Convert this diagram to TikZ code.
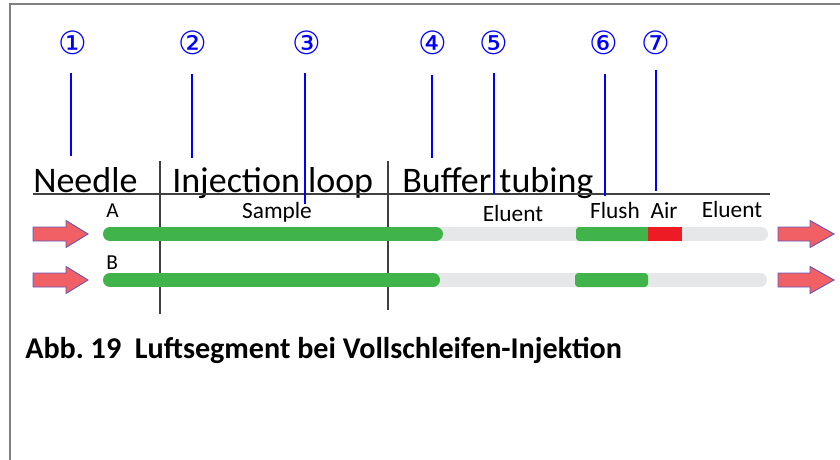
\documentclass[tikz,border=0pt]{standalone}
\usepackage{fontspec}
\setmainfont{Carlito}
\newfontfamily\circfont{DejaVu Sans}
\frenchspacing
\begin{document}
\begin{tikzpicture}[x=0.75pt,y=-0.75pt,
  frame/.style={draw=black!50,line width=1.8pt},
  callout/.style={font=\circfont\fontsize{24}{24}\selectfont,text=blue,inner sep=0pt},
  leader/.style={draw=blue,line width=1.5pt},
  heading/.style={font=\fontsize{27}{30}\selectfont,anchor=base west,inner sep=0pt},
  label/.style={font=\fontsize{17.5}{19}\selectfont,anchor=base,inner sep=0pt},
  rowlabel/.style={font=\fontsize{16}{18}\selectfont,anchor=base west,inner sep=0pt},
  rule/.style={draw=black!75,line width=0.8pt},
  tube/.style={line width=10.5pt},
  flowarrow/.style={fill=arrowred,draw=arrowblue,line width=0.7pt,line join=miter},
  caption/.style={font=\bfseries\fontsize{22.6}{24}\selectfont,anchor=base west,inner sep=0pt}
]
\definecolor{tubegreen}{RGB}{64,180,74}
\definecolor{tubegray}{RGB}{230,231,232}
\definecolor{airred}{RGB}{237,28,36}
\definecolor{arrowred}{RGB}{240,96,100}
\definecolor{arrowblue}{RGB}{100,90,190}
\useasboundingbox (0,0) rectangle (840,460);

% page frame
\draw[frame] (10,462) -- (10,4) -- (842,4);

% callout numbers and their leader lines
\node[callout] (c1) at (73,43) {①};
\node[callout] (c2) at (193,43) {②};
\node[callout] (c3) at (307,43) {③};
\node[callout] (c4) at (433,43) {④};
\node[callout] (c5) at (494,43) {⑤};
\node[callout] (c6) at (604,43) {⑥};
\node[callout] (c7) at (656,43) {⑦};
\coordinate (l1a) at (71,73);  \coordinate (l1b) at (71,156);
\coordinate (l2a) at (192,74); \coordinate (l2b) at (192,158);
\coordinate (l3a) at (305,73); \coordinate (l3b) at (305,204);
\coordinate (l4a) at (432,75); \coordinate (l4b) at (432,158);
\coordinate (l5a) at (494,73); \coordinate (l5b) at (494,194);
\coordinate (l6a) at (605,74); \coordinate (l6b) at (605,196);
\coordinate (l7a) at (656,70); \coordinate (l7b) at (656,191);

% section headings
\node[heading] (needle) at (33,192) {Needle};
\node[heading] (loop) at (172,192) {Injection loop};
\node[heading] (buffer) at (402,192) {Buffer tubing};
\draw[rule] (33,194) -- (770,194);
\draw[rule] (160,161) -- (160,314);
\draw[rule] (388,161) -- (388,310);

% tube contents
\draw[tube,tubegray,line cap=round] (110,234) -- (761,234);
\draw[tube,tubegray,line cap=round] (110,280) -- (760,280);
\draw[tube,tubegreen,line cap=round] (110,234) -- (436,234);
\draw[tube,tubegreen,line cap=round] (110,280) -- (433,280);
\fill[tubegreen,rounded corners=2.5pt] (576,227) rectangle (652,241);
\fill[airred] (648,227) rectangle (682,241);
\fill[tubegreen,rounded corners=2.5pt] (575,273) rectangle (648,287);

% blue leader lines drawn over the headings
\draw[leader] (l1a) -- (l1b);
\draw[leader] (l2a) -- (l2b);
\draw[leader] (l3a) -- (l3b);
\draw[leader] (l4a) -- (l4b);
\draw[leader] (l5a) -- (l5b);
\draw[leader] (l6a) -- (l6b);
\draw[leader] (l7a) -- (l7b);

% content labels
\node[rowlabel] (rowA) at (106,218) {A};
\node[rowlabel] (rowB) at (106,269) {B};
\node[label] (sample) at (277,219) {Sample};
\node[label] (eluent1) at (513,221) {Eluent};
\node[label] (flush) at (615,219) {Flush};
\node[label] (air) at (664,219) {Air};
\node[label] (eluent2) at (732,218) {Eluent};

% flow arrows
\foreach \yc in {234,280}{
  \draw[flowarrow] (33,\yc-7) -- (66,\yc-7) -- (66,\yc-13.5) -- (88,\yc)
    -- (66,\yc+13.5) -- (66,\yc+7) -- (33,\yc+7) -- cycle;
  \draw[flowarrow] (778,\yc-7) -- (810,\yc-7) -- (810,\yc-13.5) -- (834,\yc)
    -- (810,\yc+13.5) -- (810,\yc+7) -- (778,\yc+7) -- cycle;
}

% caption
\node[caption] (cap) at (25,358) {Abb. 19\ \ Luftsegment bei Vollschleifen-Injektion};
\end{tikzpicture}
\end{document}
